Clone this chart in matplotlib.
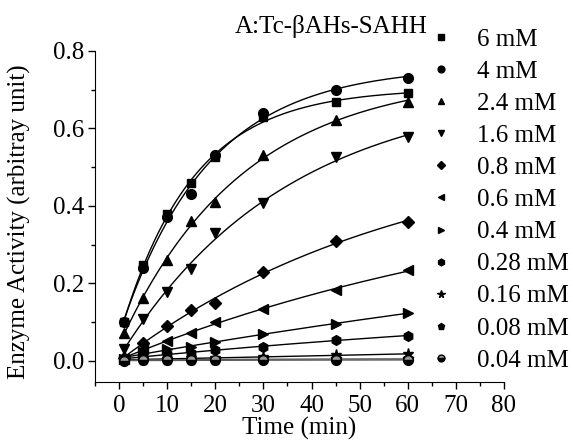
import numpy as np
import matplotlib
matplotlib.use("Agg")
import matplotlib.pyplot as plt
from matplotlib.ticker import MultipleLocator, FormatStrFormatter

plt.rcParams["font.family"] = ["Liberation Serif", "DejaVu Serif"]

# sampling times (min)
times = [1, 5, 10, 15, 20, 30, 45, 60]

# SAH concentrations and the activity read at each time
labels = ["6 mM", "4 mM", "2.4 mM", "1.6 mM", "0.8 mM", "0.6 mM",
          "0.4 mM", "0.28 mM", "0.16 mM", "0.08 mM", "0.04 mM"]
act_6 = [0.100, 0.247, 0.379, 0.460, 0.525, 0.630, 0.669, 0.691]
act_4 = [0.100, 0.240, 0.370, 0.430, 0.532, 0.640, 0.700, 0.730]
act_2_4 = [0.072, 0.161, 0.260, 0.360, 0.411, 0.531, 0.621, 0.669]
act_1_6 = [0.029, 0.109, 0.178, 0.238, 0.329, 0.407, 0.527, 0.577]
act_0_8 = [0.008, 0.047, 0.089, 0.130, 0.150, 0.229, 0.309, 0.359]
act_0_6 = [0.005, 0.030, 0.051, 0.072, 0.100, 0.134, 0.182, 0.234]
act_0_4 = [0.004, 0.022, 0.031, 0.036, 0.048, 0.068, 0.096, 0.123]
act_0_28 = [0.003, 0.012, 0.018, 0.021, 0.027, 0.036, 0.053, 0.065]
act_0_16 = [0.002, 0.004, 0.005, 0.006, 0.007, 0.009, 0.014, 0.018]
act_0_08 = [0.001, 0.002, 0.002, 0.003, 0.003, 0.004, 0.004, 0.005]
act_0_04 = [0.000, 0.001, 0.001, 0.001, 0.001, 0.001, 0.002, 0.002]

series = [act_6, act_4, act_2_4, act_1_6, act_0_8, act_0_6,
          act_0_4, act_0_28, act_0_16, act_0_08, act_0_04]
markers = ["s", "o", "^", "v", "D", "<", ">", "h", "*", "p", "o"]
msizes = [6, 7, 7, 7, 6, 7, 7, 7, 8, 7, 7]


def fit_curve(t, y, tt):
    """y = c + A*(1 - exp(-k t)), k by grid search, A and c by least squares."""
    t = np.asarray(t, float)
    y = np.asarray(y, float)
    best = None
    for k in np.logspace(-4, 0, 600):
        X = np.column_stack([np.ones_like(t), 1 - np.exp(-k * t)])
        coef, *_ = np.linalg.lstsq(X, y, rcond=None)
        r = np.sum((X @ coef - y) ** 2)
        if best is None or r < best[0]:
            best = (r, k, coef)
    _, k, (c, a) = best
    return c + a * (1 - np.exp(-k * tt))


fig = plt.figure(figsize=(5.73, 4.45), dpi=100)
ax = fig.add_axes([95 / 573, 63 / 445, 409 / 573, 331 / 445])

tt = np.linspace(1, 60, 200)
for i, (lab, y) in enumerate(zip(labels, series)):
    line_col = "0.35" if i >= 9 else "black"
    ax.plot(tt, fit_curve(times, y, tt), color=line_col, lw=1.0, zorder=2)
    kw = dict(color="black", markersize=msizes[i], linestyle="none",
              marker=markers[i], label=lab, zorder=3)
    if i == 10:
        kw.update(fillstyle="bottom", markerfacecoloralt="0.6")
    ax.plot(times, y, **kw)

ax.set_xlim(-5, 80)
ax.set_ylim(-0.055, 0.8)
ax.xaxis.set_major_locator(MultipleLocator(10))
ax.xaxis.set_minor_locator(MultipleLocator(5))
ax.yaxis.set_major_locator(MultipleLocator(0.2))
ax.yaxis.set_minor_locator(MultipleLocator(0.1))
ax.set_xticks(np.arange(0, 81, 10))
ax.spines["top"].set_visible(False)
ax.spines["right"].set_visible(False)
ax.tick_params(which="major", direction="out", length=5, width=1,
               labelsize=18, pad=3)
ax.tick_params(which="minor", direction="out", length=3, width=1)
ax.tick_params(axis="x", which="major", pad=4)
ax.yaxis.set_major_formatter(FormatStrFormatter("%.1f"))

ax.set_xlabel("Time (min)", fontsize=18, labelpad=0)
fig.text(19 / 573, 1 - 222 / 445, "Enzyme Activity (arbitray unit)",
         fontsize=18, rotation=90, ha="center", va="center")

fig.text(331 / 573, 1 - 33 / 445, "A:Tc-βAHs-SAHH", fontsize=18,
         ha="center", va="baseline")

leg = ax.legend(loc="upper left", bbox_to_anchor=(428 / 573, 1 - 28 / 445),
                bbox_transform=fig.transFigure, frameon=False,
                handlelength=1.0, handletextpad=0.95, markerscale=0.7,
                labelspacing=0.385, fontsize=18, borderpad=0, borderaxespad=0)

fig.savefig("out.png", dpi=100)
